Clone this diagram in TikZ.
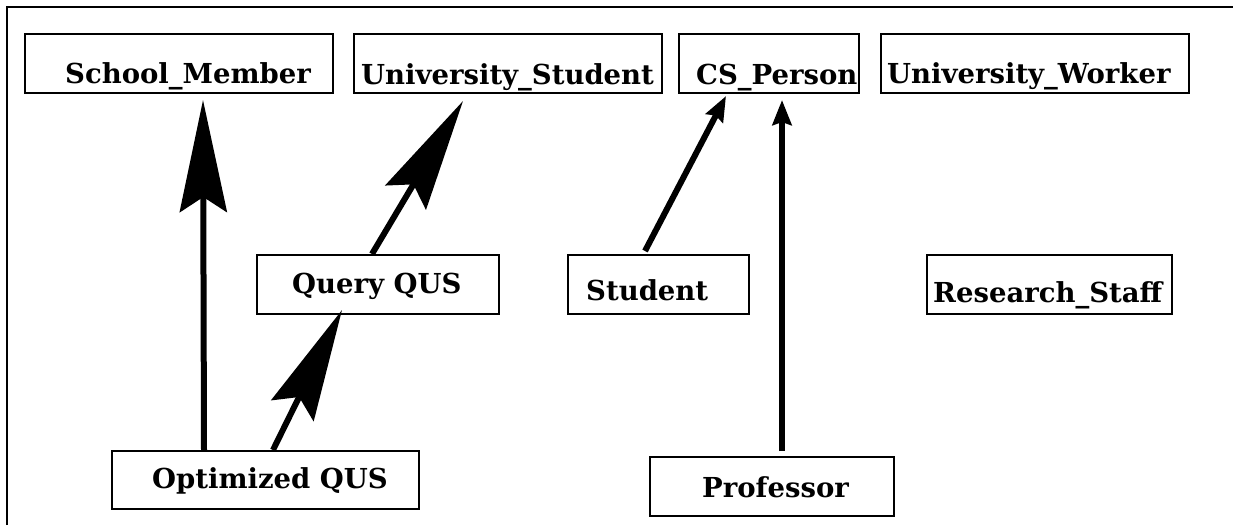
\documentclass[tikz,border=0pt]{standalone}
\usepackage{fontspec}
\setmainfont{DejaVu Serif}
\usetikzlibrary{arrows.meta,calc}
\begin{document}
\begin{tikzpicture}[x=1pt,y=-1pt,
  box/.style={draw,line width=2pt,rectangle,anchor=north west,inner sep=0pt},
  lbl/.style={anchor=base west,inner sep=0pt,font=\fontsize{27.5}{33}\selectfont\bfseries},
  bigarrow/.style={line width=6pt,-{Stealth[length=112pt,width=47pt,inset=15pt]}},
  smallarrow/.style={line width=6pt,-{Stealth[length=25pt,width=19pt,inset=3pt]}}]
  \useasboundingbox (0,0) rectangle (1233,525);
  % outer frame, open towards the right and bottom
  \draw[line width=2pt] (7,525) -- (7,7) -- (1233,7);

  % class boxes
  \node[box,minimum width=308pt,minimum height=59pt] (sm) at (24,33) {};
  \node[box,minimum width=308pt,minimum height=59pt] (us) at (353,33) {};
  \node[box,minimum width=180pt,minimum height=59pt] (cs) at (678,33) {};
  \node[box,minimum width=308pt,minimum height=59pt] (uw) at (880,33) {};
  \node[box,minimum width=242pt,minimum height=59pt] (qq) at (256,254) {};
  \node[box,minimum width=181pt,minimum height=59pt] (st) at (567,254) {};
  \node[box,minimum width=245pt,minimum height=59pt] (rs) at (926,254) {};
  \node[box,minimum width=307pt,minimum height=58pt] (oq) at (111,450) {};
  \node[box,minimum width=244pt,minimum height=59pt] (pr) at (649,456) {};

  % labels
  \node[lbl] (smt) at (65,83) {School\_Member};
  \node[lbl] (ust) at (361,84) {University\_Student};
  \node[lbl] (cst) at (696,84) {CS\_Person};
  \node[lbl] (uwt) at (887,83) {University\_Worker};
  \node[lbl] (qqt) at (292,293) {Query QUS};
  \node[lbl] (stt) at (586,300) {Student};
  \node[lbl] (rst) at (933,302) {Research\_Staff};
  \node[lbl] (oqt) at (152,488) {Optimized QUS};
  \node[lbl] (prt) at (702,497) {Professor};

  % arrows
  \draw[bigarrow] ($(oq.north west)+(93,0)$) -- ($(sm.south west)+(179,6)$);
  \draw[bigarrow] ($(oq.north west)+(162,0)$) -- ($(qq.south west)+(86,-5)$);
  \draw[bigarrow] ($(qq.north west)+(116,0)$) -- ($(us.south west)+(110,7)$);
  \draw[smallarrow] ($(st.north west)+(78,-3)$) -- ($(cs.south west)+(48,2)$);
  \draw[smallarrow] ($(pr.north west)+(133,-5)$) -- ($(cs.south west)+(104,6)$);
\end{tikzpicture}
\end{document}
